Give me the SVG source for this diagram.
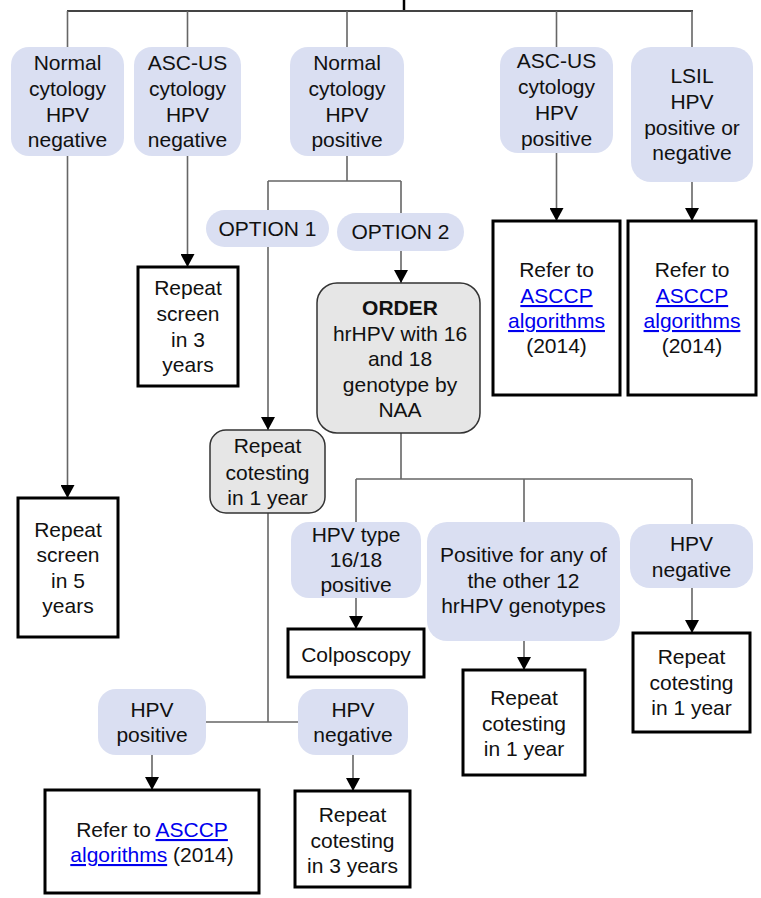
<svg xmlns="http://www.w3.org/2000/svg" width="761" height="898" viewBox="0 0 761 898">
  <style>
    text { font-family: "Liberation Sans", Arial, sans-serif; font-size: 21px; fill: #111; text-anchor: middle; }
    .b { font-weight: bold; }
    .link { fill: #0000ee; text-decoration: underline; }
    .cond { fill: #dadff2; stroke: none; }
    .step { fill: #e6e6e6; stroke: #333; stroke-width: 1.5; }
    .act { fill: #fff; stroke: #000; stroke-width: 3; }
    .wire { fill: none; stroke: #666; stroke-width: 1.6; }
    .arrow { fill: none; stroke: #666; stroke-width: 1.6; marker-end: url(#tip); }
  </style>
  <defs>
    <marker id="tip" markerUnits="userSpaceOnUse" markerWidth="14" markerHeight="14" refX="13" refY="7" orient="auto">
      <path d="M0,0 L13,7 L0,14 z" fill="#000"/>
    </marker>
  </defs>

  <rect width="761" height="898" fill="#fff"/>

  <!-- connectors -->
  <g id="connectors">
    <line x1="404" y1="0" x2="404" y2="12" stroke="#000" stroke-width="2.5"/>
    <line x1="67" y1="11" x2="693" y2="11" stroke="#444" stroke-width="2"/>
    <path class="wire" d="M67.5,11 V47 M187.5,11 V47 M347,11 V47 M556.5,11 V47 M692,11 V47"/>
    <path class="arrow" d="M67.5,156 V498"/>
    <path class="arrow" d="M187.5,156 V267"/>
    <path class="wire" d="M347,156 V181 M268,181 H401 M268,181 V210 M401,181 V213"/>
    <path class="arrow" d="M268,247 V430"/>
    <path class="arrow" d="M401,251 V283"/>
    <path class="arrow" d="M556.5,153 V221"/>
    <path class="arrow" d="M692,182 V221"/>
    <path class="wire" d="M401,433 V479 M356,479 H692 M356,479 V522 M524,479 V522 M692,479 V524"/>
    <path class="arrow" d="M356,598 V629"/>
    <path class="arrow" d="M524,641 V670"/>
    <path class="arrow" d="M692,588 V633"/>
    <path class="wire" d="M268,513 V722 M206,722 H298"/>
    <path class="arrow" d="M152,755 V790"/>
    <path class="arrow" d="M353,755 V791"/>
  </g>

  <!-- first-level results -->
  <g id="normal-hpv-neg">
    <rect class="cond" x="11" y="47" width="113" height="109" rx="18"/>
    <text x="67.5" y="70">Normal</text>
    <text x="67.5" y="96">cytology</text>
    <text x="67.5" y="122">HPV</text>
    <text x="67.5" y="147">negative</text>
  </g>
  <g id="ascus-hpv-neg">
    <rect class="cond" x="134" y="47" width="107" height="109" rx="18"/>
    <text x="187.5" y="70">ASC-US</text>
    <text x="187.5" y="96">cytology</text>
    <text x="187.5" y="122">HPV</text>
    <text x="187.5" y="147">negative</text>
  </g>
  <g id="normal-hpv-pos">
    <rect class="cond" x="290" y="47" width="114" height="109" rx="18"/>
    <text x="347" y="70">Normal</text>
    <text x="347" y="96">cytology</text>
    <text x="347" y="122">HPV</text>
    <text x="347" y="147">positive</text>
  </g>
  <g id="ascus-hpv-pos">
    <rect class="cond" x="500" y="47" width="113" height="106" rx="18"/>
    <text x="556.5" y="68">ASC-US</text>
    <text x="556.5" y="94">cytology</text>
    <text x="556.5" y="120">HPV</text>
    <text x="556.5" y="146">positive</text>
  </g>
  <g id="lsil">
    <rect class="cond" x="631" y="47" width="122" height="135" rx="20"/>
    <text x="692" y="83">LSIL</text>
    <text x="692" y="109">HPV</text>
    <text x="692" y="135">positive or</text>
    <text x="692" y="160">negative</text>
  </g>

  <!-- outcomes for the first level -->
  <g id="repeat-screen-5">
    <rect class="act" x="18" y="498" width="100" height="139"/>
    <text x="68" y="537">Repeat</text>
    <text x="68" y="562">screen</text>
    <text x="68" y="588">in 5</text>
    <text x="68" y="613">years</text>
  </g>
  <g id="repeat-screen-3">
    <rect class="act" x="138" y="267" width="100" height="119"/>
    <text x="188" y="295">Repeat</text>
    <text x="188" y="321">screen</text>
    <text x="188" y="347">in 3</text>
    <text x="188" y="372">years</text>
  </g>
  <g id="refer-ascus">
    <rect class="act" x="493" y="221" width="127" height="174"/>
    <text x="556.5" y="277">Refer to</text>
    <text x="556.5" y="303" class="link">ASCCP</text>
    <text x="556.5" y="328" class="link">algorithms</text>
    <text x="556.5" y="353">(2014)</text>
  </g>
  <g id="refer-lsil">
    <rect class="act" x="628" y="221" width="128" height="174"/>
    <text x="692" y="277">Refer to</text>
    <text x="692" y="303" class="link">ASCCP</text>
    <text x="692" y="328" class="link">algorithms</text>
    <text x="692" y="353">(2014)</text>
  </g>

  <!-- options for normal cytology, HPV positive -->
  <g id="option-1">
    <rect class="cond" x="206" y="210" width="123" height="37" rx="18.5"/>
    <text x="267.5" y="236">OPTION 1</text>
  </g>
  <g id="option-2">
    <rect class="cond" x="337" y="213" width="127" height="38" rx="19"/>
    <text x="400.5" y="239">OPTION 2</text>
  </g>
  <g id="order-genotype">
    <rect class="step" x="317" y="283" width="163" height="150" rx="20"/>
    <text x="400" y="315" class="b">ORDER</text>
    <text x="400" y="341">hrHPV with 16</text>
    <text x="400" y="366">and 18</text>
    <text x="400" y="392">genotype by</text>
    <text x="400" y="417">NAA</text>
  </g>
  <g id="repeat-cotest-opt1">
    <rect class="step" x="210" y="430" width="115" height="83" rx="16"/>
    <text x="267.5" y="453">Repeat</text>
    <text x="267.5" y="480">cotesting</text>
    <text x="267.5" y="505">in 1 year</text>
  </g>

  <!-- genotype results -->
  <g id="hpv-16-18">
    <rect class="cond" x="291" y="522" width="130" height="76" rx="18"/>
    <text x="356" y="542">HPV type</text>
    <text x="356" y="567">16/18</text>
    <text x="356" y="592">positive</text>
  </g>
  <g id="colposcopy">
    <rect class="act" x="288" y="629" width="136" height="48"/>
    <text x="356" y="662">Colposcopy</text>
  </g>
  <g id="other-12">
    <rect class="cond" x="427" y="522" width="193" height="119" rx="20"/>
    <text x="523.5" y="562">Positive for any of</text>
    <text x="523.5" y="588">the other 12</text>
    <text x="523.5" y="613">hrHPV genotypes</text>
  </g>
  <g id="repeat-cotest-other">
    <rect class="act" x="463" y="670" width="122" height="105"/>
    <text x="524" y="705">Repeat</text>
    <text x="524" y="731">cotesting</text>
    <text x="524" y="756">in 1 year</text>
  </g>
  <g id="hpv-neg-genotype">
    <rect class="cond" x="630" y="524" width="123" height="64" rx="20"/>
    <text x="691.5" y="551">HPV</text>
    <text x="691.5" y="577">negative</text>
  </g>
  <g id="repeat-cotest-neg">
    <rect class="act" x="633" y="633" width="117" height="99"/>
    <text x="691.5" y="664">Repeat</text>
    <text x="691.5" y="690">cotesting</text>
    <text x="691.5" y="715">in 1 year</text>
  </g>

  <!-- results after repeat cotesting -->
  <g id="hpv-pos-bottom">
    <rect class="cond" x="98" y="689" width="108" height="66" rx="18"/>
    <text x="152" y="717">HPV</text>
    <text x="152" y="742">positive</text>
  </g>
  <g id="refer-bottom">
    <rect class="act" x="45" y="790" width="214" height="103"/>
    <text x="152" y="837">Refer to <tspan class="link">ASCCP</tspan></text>
    <text x="152" y="862"><tspan class="link">algorithms</tspan> (2014)</text>
  </g>
  <g id="hpv-neg-bottom">
    <rect class="cond" x="298" y="689" width="110" height="66" rx="18"/>
    <text x="353" y="717">HPV</text>
    <text x="353" y="742">negative</text>
  </g>
  <g id="repeat-cotest-3">
    <rect class="act" x="295" y="791" width="115" height="96"/>
    <text x="352.5" y="822">Repeat</text>
    <text x="352.5" y="848">cotesting</text>
    <text x="352.5" y="873">in 3 years</text>
  </g>
</svg>
